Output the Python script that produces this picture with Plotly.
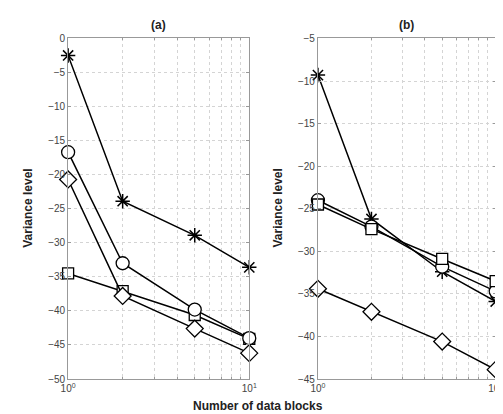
import plotly.graph_objects as go

x_blocks = [1, 2, 5, 10]

# Panel (a)
a_star = [-2.5, -23.9, -28.9, -33.6]
a_circle = [-16.7, -33.0, -39.8, -44.0]
a_diamond = [-20.7, -37.8, -42.6, -46.2]
a_square = [-34.5, -37.1, -40.6, -44.1]

# Panel (b)
b_star = [-9.3, -26.2, -32.4, -35.9]
b_circle = [-24.0, -27.1, -31.8, -34.7]
b_square = [-24.5, -27.4, -30.9, -33.5]
b_diamond = [-34.4, -37.1, -40.6, -43.9]

xtick_vals = [1, 10]
xtick_text = ["10<sup>0</sup>", "10<sup>1</sup>"]
xminor_vals = [2, 3, 4, 5, 6, 7, 8, 9]

fig = go.Figure()

def add(xax, yax, ys, symbol, size):
    fig.add_trace(go.Scatter(
        x=x_blocks, y=ys, mode="lines+markers",
        xaxis=xax, yaxis=yax, cliponaxis=False,
        line=dict(color="black", width=1.5),
        marker=dict(symbol=symbol, size=size, color="white",
                    line=dict(color="black", width=1.3)),
        showlegend=False))

def add_star(xax, yax, ys):
    fig.add_trace(go.Scatter(
        x=x_blocks, y=ys, mode="lines+markers",
        xaxis=xax, yaxis=yax, cliponaxis=False,
        line=dict(color="black", width=1.5),
        marker=dict(symbol="asterisk-open", size=12,
                    line=dict(color="black", width=1.5)),
        showlegend=False))

add("x", "y", a_square, "square", 11)
add("x", "y", a_diamond, "diamond", 13)
add("x", "y", a_circle, "circle", 13)
add_star("x", "y", a_star)

add("x2", "y2", b_diamond, "diamond", 13)
add_star("x2", "y2", b_star)
add("x2", "y2", b_circle, "circle", 13)
add("x2", "y2", b_square, "square", 11)

axis_common = dict(
    showline=True, linecolor="#999999", linewidth=1, mirror="ticks",
    ticks="inside", ticklen=3, tickcolor="#999999",
    showgrid=True, gridcolor="#d4d4d4", griddash="dot", gridwidth=1,
    zeroline=False,
    tickfont=dict(family="Liberation Sans, Arial", size=10, color="#444444"),
)
minor_x = dict(tickvals=xminor_vals, showgrid=True, gridcolor="#d4d4d4",
               griddash="dot", ticks="inside", ticklen=2, tickcolor="#999999")

fig.update_layout(
    width=503, height=414,
    margin=dict(l=0, r=0, t=0, b=0),
    paper_bgcolor="white", plot_bgcolor="white",
    xaxis=dict(type="log", range=[0, 1], domain=[0.107, 0.479],
               tickvals=xtick_vals, ticktext=xtick_text, minor=minor_x,
               anchor="y", **axis_common),
    yaxis=dict(range=[-50, 0], dtick=5, domain=[0.094, 0.937], anchor="x", **axis_common),
    xaxis2=dict(type="log", range=[0, 1], domain=[0.620, 0.985],
                tickvals=xtick_vals, ticktext=xtick_text, minor=minor_x,
                anchor="y2", **axis_common),
    yaxis2=dict(range=[-45, -5], dtick=5, domain=[0.094, 0.937], anchor="x2", **axis_common),
)

font_bold = dict(family="Liberation Sans, Arial", size=12, color="#222222")
annots = [
    dict(text="<b>(a)</b>", x=0.293, y=1 - 12 / 414),
    dict(text="<b>(b)</b>", x=0.802, y=1 - 12 / 414),
    dict(text="<b>Number of data blocks</b>", x=250 / 503, y=1 - 403 / 414),
]
for a in annots:
    fig.add_annotation(text=a["text"], x=a["x"], y=a["y"], xref="paper", yref="paper",
                       showarrow=False, font=font_bold, xanchor="center", yanchor="middle")
for xp in [13 / 503, 271 / 503]:
    fig.add_annotation(text="<b>Variance level</b>", x=xp, y=1 - 200 / 414,
                       xref="paper", yref="paper", showarrow=False, textangle=-90,
                       font=font_bold, xanchor="center", yanchor="middle")

fig.write_html("out.html")
